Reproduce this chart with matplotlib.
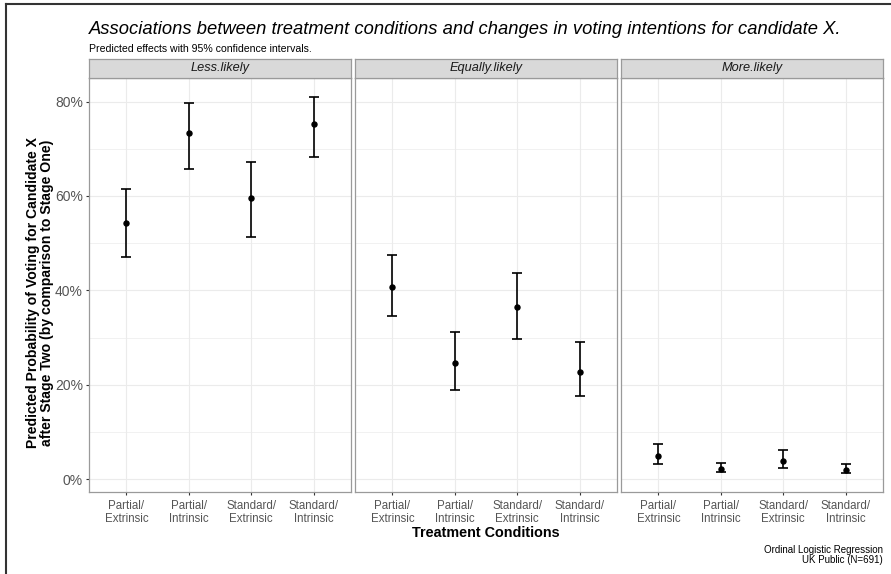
import matplotlib.pyplot as plt
from matplotlib.lines import Line2D
from matplotlib.ticker import FuncFormatter, MultipleLocator

plt.rcParams['font.family'] = ['Liberation Sans', 'DejaVu Sans']

# treatment conditions on the x axis
conditions = ["Partial/\nExtrinsic", "Partial/\nIntrinsic",
              "Standard/\nExtrinsic", "Standard/\nIntrinsic"]
outcomes = ["Less.likely", "Equally.likely", "More.likely"]

# predicted probabilities (%) with 95% CI
less_est = [54.3, 73.3, 59.5, 75.2]
less_lo = [47.0, 65.8, 51.4, 68.3]
less_hi = [61.5, 79.6, 67.2, 81.0]

equal_est = [40.8, 24.6, 36.5, 22.8]
equal_lo = [34.5, 18.9, 29.8, 17.6]
equal_hi = [47.4, 31.3, 43.7, 29.0]

more_est = [4.9, 2.2, 3.9, 2.0]
more_lo = [3.2, 1.5, 2.4, 1.3]
more_hi = [7.4, 3.5, 6.2, 3.2]

estimates = [less_est, equal_est, more_est]
lowers = [less_lo, equal_lo, more_lo]
uppers = [less_hi, equal_hi, more_hi]

W, H = 891, 574
fig = plt.figure(figsize=(W / 100, H / 100), dpi=100)
fig.patch.set_facecolor('white')


def rect(x0, y0, x1, y1):
    # pixel box (top-left origin) -> figure fraction
    return [x0 / W, 1 - y1 / H, (x1 - x0) / W, (y1 - y0) / H]


border_col = '#9a9a9a'
grid_col = '#ebebeb'
tick_col = '#555555'

# same y range for all facets, ggplot style expansion
lo_all = min(min(l) for l in lowers)
hi_all = max(max(u) for u in uppers)
pad = 0.05 * (hi_all - lo_all)

panel_x = [89, 355, 621]
panel_w = 262
xs = list(range(1, len(conditions) + 1))

for i, name in enumerate(outcomes):
    x0 = panel_x[i]
    ax = fig.add_axes(rect(x0, 78, x0 + panel_w, 492))
    ax.set_xlim(0.4, len(conditions) + 0.6)
    ax.set_ylim(lo_all - pad, hi_all + pad)
    ax.yaxis.set_major_locator(MultipleLocator(20))
    ax.yaxis.set_minor_locator(MultipleLocator(10))
    ax.grid(True, which='major', color=grid_col, linewidth=0.8)
    ax.grid(True, which='minor', color=grid_col, linewidth=0.5)
    ax.set_axisbelow(True)
    for s in ax.spines.values():
        s.set_color(border_col)
        s.set_linewidth(0.9)

    ax.errorbar(xs, estimates[i],
                yerr=[[e - l for e, l in zip(estimates[i], lowers[i])],
                      [u - e for e, u in zip(estimates[i], uppers[i])]],
                fmt='o', color='black', markersize=3.6, elinewidth=1.2,
                capsize=3.3, capthick=1.2, zorder=3)

    ax.set_xticks(xs)
    ax.set_xticklabels(conditions, fontsize=8.3, color=tick_col, linespacing=1.05)
    ax.tick_params(axis='both', which='major', length=2.5, color='#333333', width=0.8)
    ax.tick_params(axis='x', pad=3.5)
    ax.tick_params(axis='y', which='minor', length=0)
    if i == 0:
        ax.yaxis.set_major_formatter(FuncFormatter(lambda v, p: "%d%%" % round(v)))
        ax.tick_params(axis='y', labelsize=10, labelcolor=tick_col, pad=2)
    else:
        ax.tick_params(axis='y', labelleft=False, length=0)

    # facet strip
    strip = fig.add_axes(rect(x0, 59, x0 + panel_w, 78))
    strip.set_facecolor('#d9d9d9')
    strip.set_xticks([])
    strip.set_yticks([])
    for s in strip.spines.values():
        s.set_color(border_col)
        s.set_linewidth(0.9)
    strip.text(0.5, 0.5, name, ha='center', va='center', style='italic',
               fontsize=9.2, color='#1a1a1a', transform=strip.transAxes)

fig.text(89 / W, 1 - 29 / H, "Associations between treatment conditions and changes in voting intentions for candidate X.",
         ha='left', va='center', fontsize=13.25, style='italic', color='black')
fig.text(89 / W, 1 - 49.5 / H, "Predicted effects with 95% confidence intervals.",
         ha='left', va='center', fontsize=7.6, color='black')

fig.text(486 / W, 1 - 533 / H, "Treatment Conditions", ha='center', va='center',
         fontsize=10.4, fontweight='bold', color='black')
fig.text(40 / W, 1 - 293 / H,
         "Predicted Probability of Voting for Candidate X\nafter Stage Two (by comparison to Stage One)",
         ha='center', va='center', rotation=90, fontsize=10.1, fontweight='bold',
         color='black', linespacing=1.05)

fig.text(883 / W, 1 - 555 / H, "Ordinal Logistic Regression\nUK Public (N=691)",
         ha='right', va='center', fontsize=7, color='black', linespacing=1.05)

# frame of the screenshot (left and top edges)
fig.add_artist(Line2D([6 / W, 6 / W], [0, 1 - 4 / H], color='#333333', linewidth=1.5))
fig.add_artist(Line2D([6 / W, 1], [1 - 4 / H, 1 - 4 / H], color='#333333', linewidth=1.5))

fig.savefig('out.png', dpi=100)
